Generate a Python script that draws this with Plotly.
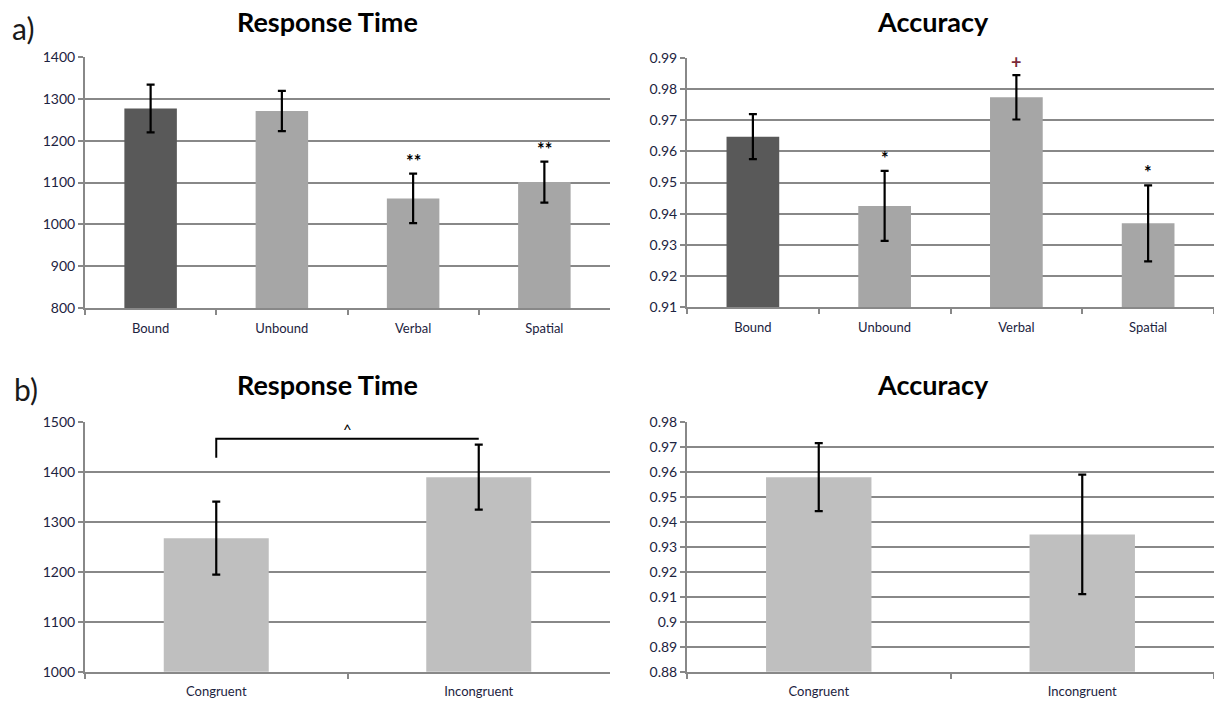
import plotly.graph_objects as go

W, H = 1214, 707

# ---- data -------------------------------------------------------------
conditions_a = ["Bound", "Unbound", "Verbal", "Spatial"]
rt_a = [1277, 1271, 1062, 1101]
rt_a_err = [57, 48, 59, 49]
rt_a_marks = ["", "", "**", "**"]

acc_a = [0.9647, 0.9425, 0.9773, 0.9369]
acc_a_err = [0.0072, 0.0112, 0.0071, 0.0122]
acc_a_marks = ["", "*", "+", "*"]

conditions_b = ["Congruent", "Incongruent"]
rt_b = [1267, 1389]
rt_b_err = [73, 65]
rt_b_bracket = [1428, 1466]  # left drop end, bracket level

acc_b = [0.9578, 0.9349]
acc_b_err = [0.0136, 0.0239]

# ---- styling ----------------------------------------------------------
DARK = "#595959"
MID = "#a6a6a6"
LIGHT = "#bfbfbf"
GRID = "#888888"
TICK_COLOR = "#1c2340"
FONT = "Lato"

colors_a = [DARK, MID, MID, MID]
colors_b = [LIGHT, LIGHT]


def px_x(a, b):
    return [a / W, min(b / W, 1.0)]


def px_y(top, bottom):
    return [1 - bottom / H, 1 - top / H]


fig = go.Figure()


def add_bars(xs, ys, errs, colors, xa, ya):
    fig.add_trace(go.Bar(
        x=xs, y=ys,
        marker=dict(color=colors, line=dict(width=0)),
        error_y=dict(type="data", array=errs, visible=True,
                     color="black", thickness=2.2, width=4),
        xaxis=xa, yaxis=ya, showlegend=False,
    ))


add_bars(conditions_a, rt_a, rt_a_err, colors_a, "x", "y")
add_bars(conditions_a, acc_a, acc_a_err, colors_a, "x2", "y2")
add_bars(conditions_b, rt_b, rt_b_err, colors_b, "x3", "y3")
add_bars(conditions_b, acc_b, acc_b_err, colors_b, "x4", "y4")

# significance bracket between the two conditions
fig.add_trace(go.Scatter(
    x=[conditions_b[0], conditions_b[0], conditions_b[1]],
    y=[rt_b_bracket[0], rt_b_bracket[1], rt_b_bracket[1]],
    mode="lines", line=dict(color="black", width=2),
    xaxis="x3", yaxis="y3", showlegend=False, hoverinfo="skip",
))

bargap = 0.6

xaxis_common = dict(
    type="category", showgrid=False, showline=True, linecolor=GRID,
    linewidth=2, ticks="outside", tickson="boundaries", ticklen=5,
    tickwidth=2, tickcolor=GRID, ticklabelstandoff=7,
    tickfont=dict(family=FONT, size=13, color=TICK_COLOR),
    fixedrange=True, automargin=False,
)
yaxis_common = dict(
    showgrid=True, gridcolor=GRID, gridwidth=2, showline=True,
    linecolor=GRID, linewidth=2, ticks="outside", ticklen=5, tickwidth=2,
    tickcolor=GRID, tickfont=dict(family=FONT, size=14, color=TICK_COLOR),
    zeroline=False, fixedrange=True, automargin=False,
)

fig.update_layout(
    width=W, height=H,
    margin=dict(l=0, r=0, t=0, b=0, autoexpand=False),
    paper_bgcolor="white", plot_bgcolor="white",
    bargap=bargap,
    xaxis=dict(xaxis_common, domain=px_x(85, 610), anchor="y"),
    yaxis=dict(yaxis_common, domain=px_y(57, 308), anchor="x",
               range=[800, 1400], dtick=100),
    xaxis2=dict(xaxis_common, domain=px_x(687, 1216), anchor="y2"),
    yaxis2=dict(yaxis_common, domain=px_y(57.7, 307.3), anchor="x2",
                range=[0.91, 0.99], dtick=0.01, tickformat=".2f"),
    xaxis3=dict(xaxis_common, domain=px_x(85, 610), anchor="y3"),
    yaxis3=dict(yaxis_common, domain=px_y(421.7, 671.7), anchor="x3",
                range=[1000, 1500], dtick=100),
    xaxis4=dict(xaxis_common, domain=px_x(687, 1216), anchor="y4"),
    yaxis4=dict(yaxis_common, domain=px_y(421.7, 671.7), anchor="x4",
                range=[0.88, 0.98], dtick=0.01, tickformat="~r"),
)

annotations = []

# significance markers above the error bars
def add_marks(xs, ys, errs, marks, xref, yref, color_map):
    for x, y, e, m in zip(xs, ys, errs, marks):
        if not m:
            continue
        annotations.append(dict(
            x=x, y=y + e, xref=xref, yref=yref, text=f"<b>{m}</b>",
            showarrow=False, yanchor="bottom", yshift=0,
            font=dict(family=FONT, size=18, color=color_map.get(m, "black")),
        ))


add_marks(conditions_a, rt_a, rt_a_err, rt_a_marks, "x", "y", {})
add_marks(conditions_a, acc_a, acc_a_err, acc_a_marks, "x2", "y2",
          {"+": "#7a2a3a"})

annotations.append(dict(
    x=0.5, y=rt_b_bracket[1], xref="x3", yref="y3", text="^",
    showarrow=False, yanchor="bottom", yshift=-1,
    font=dict(family=FONT, size=15, color="black"),
))

# panel titles
for text, cx, cy in [("Response Time", 327, 21), ("Accuracy", 933, 21),
                     ("Response Time", 327, 384), ("Accuracy", 933, 384)]:
    annotations.append(dict(
        x=cx / W, y=1 - cy / H, xref="paper", yref="paper", text=f"<b>{text}</b>",
        showarrow=False, xanchor="center", yanchor="middle",
        font=dict(family=FONT, size=27, color="black"),
    ))

# panel letters
for text, lx, cy in [("a)", 10, 28), ("b)", 12, 389)]:
    annotations.append(dict(
        x=lx / W, y=1 - cy / H, xref="paper", yref="paper", text=text,
        showarrow=False, xanchor="left", yanchor="middle",
        font=dict(family=FONT, size=30, color="#1a1a1a"),
    ))

fig.update_layout(annotations=annotations)

fig.write_html("out.html")
